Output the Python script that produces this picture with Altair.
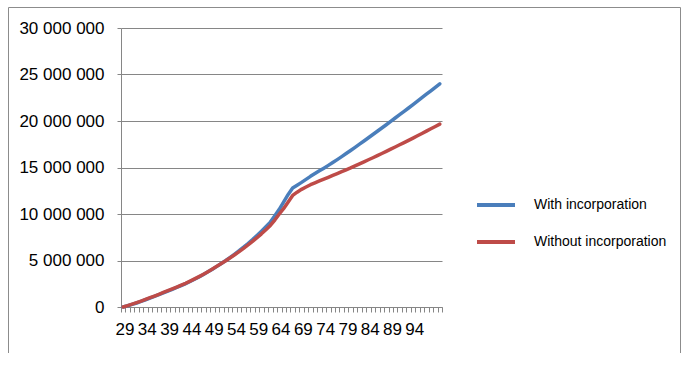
import altair as alt
import pandas as pd

ages = list(range(29, 101))

# values in millions
with_incorporation_m = [
    0.0, 0.13, 0.28, 0.43, 0.60, 0.78, 0.96, 1.14, 1.33, 1.52,
    1.71, 1.90, 2.10, 2.30, 2.51, 2.74, 2.98, 3.23, 3.50, 3.78,
    4.07, 4.37, 4.68, 5.00, 5.34, 5.69, 6.05, 6.43, 6.83, 7.25,
    7.69, 8.15, 8.63, 9.13, 9.80, 10.50, 11.30, 12.10, 12.80, 13.10,
    13.40, 13.72, 14.05, 14.35, 14.64, 14.93, 15.23, 15.54, 15.85, 16.17,
    16.50, 16.83, 17.17, 17.51, 17.85, 18.20, 18.55, 18.90, 19.25, 19.60,
    19.96, 20.32, 20.68, 21.04, 21.40, 21.77, 22.14, 22.51, 22.88, 23.25,
    23.62, 24.00,
]
without_incorporation_m = [
    0.0, 0.15, 0.31, 0.47, 0.64, 0.82, 1.00, 1.18, 1.37, 1.56,
    1.75, 1.94, 2.14, 2.34, 2.55, 2.78, 3.02, 3.27, 3.53, 3.80,
    4.08, 4.37, 4.67, 4.97, 5.29, 5.62, 5.96, 6.31, 6.67, 7.05,
    7.45, 7.87, 8.31, 8.77, 9.35, 10.00, 10.60, 11.30, 12.00, 12.35,
    12.65, 12.90, 13.15, 13.35, 13.55, 13.75, 13.95, 14.15, 14.35, 14.55,
    14.75, 14.95, 15.17, 15.39, 15.61, 15.83, 16.05, 16.28, 16.51, 16.74,
    16.97, 17.20, 17.44, 17.68, 17.92, 18.16, 18.41, 18.66, 18.91, 19.16,
    19.41, 19.66,
]

series_names = ["With incorporation", "Without incorporation"]
series_colors = ["#4A7EBB", "#BE4B48"]
x_tick_labels = [29, 34, 39, 44, 49, 54, 59, 64, 69, 74, 79, 84, 89, 94]
y_ticks = [0, 5_000_000, 10_000_000, 15_000_000, 20_000_000, 25_000_000, 30_000_000]

rows = []
for name, vals in zip(series_names, [with_incorporation_m, without_incorporation_m]):
    for a, v in zip(ages, vals):
        rows.append({"age": a, "value": v * 1_000_000, "series": name})
df = pd.DataFrame(rows)

W, H = 321, 279
FONT = "Liberation Sans"
GRAY = "#868686"

x_bounds = [a - 0.5 for a in ages] + [ages[-1] + 0.5]
label_arr = "[" + ",".join(str(v) for v in x_tick_labels) + "]"

x_enc = alt.X(
    "age:Q",
    scale=alt.Scale(domain=[ages[0] - 0.5, ages[-1] + 0.5], nice=False, zero=False),
    axis=alt.Axis(
        values=x_bounds,
        title=None,
        grid=False,
        domainColor=GRAY,
        tickColor=GRAY,
        tickSize=5,
        labelExpr=f"indexof({label_arr}, datum.value + 0.5) >= 0 ? toString(datum.value + 0.5) : ''",
        labelOffset=3.5,
        labelPadding=9,
        labelFlush=False,
        labelOverlap=False,
        labelFont=FONT,
        labelFontSize=17,
        labelColor="#000000",
    ),
)
y_enc = alt.Y(
    "value:Q",
    scale=alt.Scale(domain=[0, 30_000_000], nice=False),
    axis=alt.Axis(
        values=y_ticks,
        title=None,
        grid=True,
        gridColor=GRAY,
        domainColor=GRAY,
        tickColor=GRAY,
        tickSize=4,
        labelPadding=13,
        labelExpr="replace(replace(format(datum.value, ',d'), ',', ' '), ',', ' ')",
        labelFont=FONT,
        labelFontSize=17,
        labelColor="#000000",
    ),
)

lines = alt.Chart(df).mark_line(strokeWidth=3.5, strokeCap="round", strokeJoin="round").encode(
    x=x_enc,
    y=y_enc,
    color=alt.Color(
        "series:N",
        scale=alt.Scale(domain=series_names, range=series_colors),
        sort=series_names,
        legend=alt.Legend(
            title=None,
            orient="none",
            legendX=354,
            legendY=156,
            symbolType="stroke",
            symbolSize=1444,
            symbolStrokeWidth=4,
            labelFont=FONT,
            labelFontSize=14,
            labelColor="#000000",
            labelOffset=17,
            rowPadding=8,
            padding=0,
        ),
    ),
    order=alt.Order("age:Q"),
)

frame_df = pd.DataFrame({"k": [0]})
frame_color = "#8C8C8C"
left_edge = alt.Chart(frame_df).mark_rule(color=frame_color, strokeWidth=1).encode(
    x=alt.value(-112.5), y=alt.value(-20.5), y2=alt.value(325)
)
right_edge = alt.Chart(frame_df).mark_rule(color=frame_color, strokeWidth=1).encode(
    x=alt.value(559.5), y=alt.value(-20.5), y2=alt.value(325)
)
top_edge = alt.Chart(frame_df).mark_rule(color=frame_color, strokeWidth=1).encode(
    x=alt.value(-112.5), x2=alt.value(559.5), y=alt.value(-20.5)
)

chart = alt.layer(lines, left_edge, right_edge, top_edge).properties(
    width=W,
    height=H,
    padding={"left": 121, "top": 28, "right": 246, "bottom": 60},
    autosize=alt.AutoSizeParams(type="none"),
    background="#FFFFFF",
).configure_view(stroke=None)

chart.save("out.html", embed_options={"renderer": "svg", "actions": False})
